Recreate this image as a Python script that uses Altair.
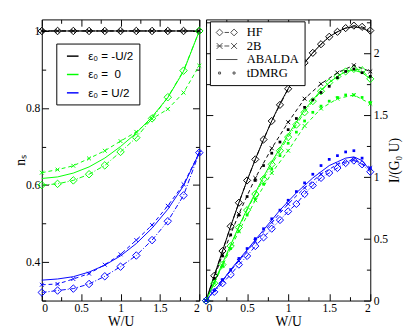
import altair as alt
import pandas as pd

EPS = ["ε₀ = -U/2", "ε₀ =\u00a0 0", "ε₀ = U/2"]
COLORS = ["#000000", "#00ff00", "#0000ff"]

# ---------------- left panel: n_s vs W/U ----------------
W_L = [0.0, 0.2, 0.4, 0.6, 0.8, 1.0, 1.2, 1.4, 1.6, 1.8, 2.0]
ns_hf_black = [1.0, 1.0, 1.0, 1.0, 1.0, 1.0, 1.0, 1.0, 1.0, 1.0, 1.0]
ns_2b_black = [1.0, 1.0, 1.0, 1.0, 1.0, 1.0, 1.0, 1.0, 1.0, 1.0, 1.0]
ns_ab_black = [1.0, 1.0, 1.0, 1.0, 1.0, 1.0, 1.0, 1.0, 1.0, 1.0, 1.0]
ns_hf_green = [0.600, 0.603, 0.612, 0.628, 0.651, 0.686, 0.723, 0.773, 0.828, 0.897, 1.0]
ns_2b_green = [0.632, 0.640, 0.650, 0.669, 0.689, 0.714, 0.738, 0.772, 0.797, 0.840, 0.910]
ns_ab_green = [0.617, 0.621, 0.631, 0.647, 0.670, 0.700, 0.735, 0.777, 0.827, 0.895, 1.0]
ns_hf_blue = [0.321, 0.326, 0.331, 0.343, 0.363, 0.388, 0.417, 0.457, 0.506, 0.573, 0.684]
ns_2b_blue = [0.341, 0.343, 0.356, 0.370, 0.393, 0.420, 0.457, 0.496, 0.546, 0.602, 0.684]
ns_ab_blue = [0.353, 0.356, 0.362, 0.374, 0.392, 0.416, 0.448, 0.488, 0.537, 0.598, 0.684]

# ---------------- right panel: I/(G0 U) vs W/U ----------------
W_R = [0.0, 0.1, 0.2, 0.3, 0.4, 0.5, 0.6, 0.7, 0.8, 0.9, 1.0,
       1.1, 1.2, 1.3, 1.4, 1.5, 1.6, 1.7, 1.8, 1.9, 2.0]
W_R2 = [0.0, 0.2, 0.4, 0.6, 0.8, 1.0, 1.2, 1.4, 1.6, 1.8, 2.0]

I_hf_black = [0, 0.20, 0.40, 0.60, 0.79, 0.97, 1.14, 1.30, 1.45, 1.58, 1.71,
              1.82, 1.92, 2.00, 2.07, 2.13, 2.17, 2.20, 2.22, 2.21, 2.18]
I_ab_black = [0, 0.20, 0.40, 0.60, 0.79, 0.97, 1.14, 1.30, 1.45, 1.59, 1.71,
              1.82, 1.92, 2.00, 2.07, 2.13, 2.17, 2.20, 2.21, 2.20, 2.17]
I_dm_black = [0, 0.18, 0.36, 0.53, 0.69, 0.84, 0.97, 1.09, 1.19, 1.28, 1.38,
              1.47, 1.56, 1.62, 1.68, 1.73, 1.80, 1.85, 1.87, 1.84, 1.81]
I_2b_black = [0, 0.37, 0.70, 0.99, 1.23, 1.44, 1.63, 1.75, 1.84, 1.90, 1.85]

I_hf_green = [0, 0.14, 0.29, 0.44, 0.59, 0.73, 0.86, 0.98, 1.10, 1.21, 1.32,
              1.42, 1.52, 1.61, 1.69, 1.76, 1.81, 1.85, 1.87, 1.86, 1.79]
I_ab_green = [0, 0.15, 0.30, 0.45, 0.60, 0.74, 0.87, 1.00, 1.12, 1.23, 1.34,
              1.44, 1.54, 1.62, 1.70, 1.76, 1.81, 1.85, 1.86, 1.84, 1.79]
I_dm_green = [0, 0.14, 0.28, 0.42, 0.56, 0.69, 0.82, 0.94, 1.06, 1.17, 1.27,
              1.36, 1.45, 1.52, 1.57, 1.61, 1.64, 1.66, 1.66, 1.64, 1.60]
I_2b_green = [0, 0.28, 0.56, 0.81, 1.03, 1.21, 1.41, 1.55, 1.63, 1.66, 1.59]

I_hf_blue = [0, 0.07, 0.14, 0.21, 0.29, 0.36, 0.44, 0.51, 0.58, 0.65, 0.72,
             0.78, 0.86, 0.93, 0.99, 1.03, 1.07, 1.11, 1.13, 1.10, 1.04]
I_ab_blue = [0, 0.08, 0.16, 0.25, 0.33, 0.41, 0.49, 0.57, 0.65, 0.73, 0.80,
             0.87, 0.93, 0.99, 1.04, 1.09, 1.12, 1.15, 1.16, 1.13, 1.05]
I_dm_blue = [0, 0.08, 0.17, 0.25, 0.34, 0.42, 0.50, 0.58, 0.66, 0.73, 0.81,
             0.88, 0.95, 1.02, 1.09, 1.14, 1.17, 1.20, 1.21, 1.15, 1.07]
I_2b_blue = [0, 0.16, 0.32, 0.48, 0.63, 0.78, 0.91, 1.02, 1.10, 1.14, 1.07]

METHODS = ["HF", "2B", "ABALDA", "tDMRG"]
# legend glyphs (symbol paths) for the method legend
LEG_PATHS = [
    "M-2.2,0L-1.5,-0.7L-0.8,0L-1.5,0.7Z M0.8,0L1.5,-0.7L2.2,0L1.5,0.7Z M-0.45,0L0.45,0",
    "M-2.1,-0.6L-0.9,0.6M-2.1,0.6L-0.9,-0.6M-2.1,0L-0.9,0 M0.9,-0.6L2.1,0.6M0.9,0.6L2.1,-0.6 M-0.5,0L0.5,0",
    "M-2.2,0L2.2,0",
    "M-1.7,-0.2L-1.3,-0.2L-1.3,0.2L-1.7,0.2Z M1.3,-0.2L1.7,-0.2L1.7,0.2L1.3,0.2Z",
]
CROSS = "M-1,-1L1,1M-1,1L1,-1"


def frame(xs, series):
    rows = []
    for eps, vals in zip(EPS, series):
        for x, v in zip(xs, vals):
            rows.append({"W": x, "v": v, "eps": eps})
    return pd.DataFrame(rows)


L_hf = frame(W_L, [ns_hf_black, ns_hf_green, ns_hf_blue])
L_2b = frame(W_L, [ns_2b_black, ns_2b_green, ns_2b_blue])
L_ab = frame(W_L, [ns_ab_black, ns_ab_green, ns_ab_blue])

R_hf = frame(W_R, [I_hf_black, I_hf_green, I_hf_blue])
R_ab = frame(W_R, [I_ab_black, I_ab_green, I_ab_blue])
R_dm = frame(W_R, [I_dm_black, I_dm_green, I_dm_blue])
R_2b = frame(W_R2, [I_2b_black, I_2b_green, I_2b_blue])

HF_DASH = [5, 2, 1, 2]
B2_DASH = [4, 3]

FONT = "Liberation Serif"


def ax(orient, values, size, labels=False, title=None, fmt="~g", **kw):
    return alt.Axis(orient=orient, values=values, tickSize=size, offset=-size,
                    domain=False, grid=False, labels=labels, title=title,
                    format=fmt, tickColor="black", tickWidth=1, **kw)


XMAJ = [0, 0.5, 1, 1.5, 2]
XMIN = [0.25, 0.75, 1.25, 1.75]


def color_enc(legend=None):
    if legend is None:
        return alt.Color("eps:N", scale=alt.Scale(domain=EPS, range=COLORS), legend=None)
    return alt.Color("eps:N", scale=alt.Scale(domain=EPS, range=COLORS), legend=legend)


H = 291

# ---------- left panel ----------
ysc_L = alt.Scale(domain=[0.3, 1.03], nice=False, zero=False)
xsc = alt.Scale(domain=[0, 2], nice=False)
YMAJ_L = [0.4, 0.6, 0.8, 1.0]
YMIN_L = [0.3, 0.5, 0.7, 0.9]

left_leg = alt.Legend(orient="none", legendX=15, legendY=25, title=None,
                      strokeColor="black", fillColor="white", padding=6,
                      symbolType="stroke", symbolSize=144, symbolStrokeWidth=1.5,
                      symbolOffset=4, labelOffset=9, rowPadding=6,
                      labelFont="Liberation Sans", labelFontSize=12, labelColor="black")

l1 = alt.Chart(L_ab).mark_line(strokeWidth=1).encode(
    x=alt.X("W:Q", scale=xsc, axis=ax("bottom", XMAJ, 7, labels=True, title="W/U",
                                      labelPadding=2, titlePadding=2)),
    y=alt.Y("v:Q", scale=ysc_L, axis=ax("left", YMAJ_L, 7, labels=True, title="nₛ",
                                        labelPadding=2, titlePadding=-2)),
    color=color_enc(left_leg),
)
l2 = alt.Chart(L_hf).mark_line(strokeWidth=1, strokeDash=HF_DASH).encode(
    x=alt.X("W:Q", scale=xsc, axis=ax("bottom", XMIN, 4)),
    y=alt.Y("v:Q", scale=ysc_L, axis=ax("left", YMIN_L, 4)),
    color=color_enc(),
)
l3 = alt.Chart(L_2b).mark_line(strokeWidth=1, strokeDash=B2_DASH).encode(
    x=alt.X("W:Q", scale=xsc, axis=ax("top", XMAJ, 7)),
    y=alt.Y("v:Q", scale=ysc_L, axis=ax("right", YMAJ_L, 7)),
    color=color_enc(),
)
l4 = alt.Chart(L_hf).mark_point(shape="diamond", size=60, filled=False, strokeWidth=1, opacity=1).encode(
    x=alt.X("W:Q", scale=xsc, axis=ax("top", XMIN, 4)),
    y=alt.Y("v:Q", scale=ysc_L, axis=ax("right", YMIN_L, 4)),
    color=color_enc(),
)
l5 = alt.Chart(L_2b).mark_point(shape=CROSS, size=16, filled=False, strokeWidth=1, opacity=1).encode(
    x=alt.X("W:Q", scale=xsc, axis=None),
    y=alt.Y("v:Q", scale=ysc_L, axis=None),
    color=color_enc(),
)
left = alt.layer(l1, l2, l3, l4, l5).resolve_axis(x="independent", y="independent").properties(
    width=163, height=H)

# ---------- right panel ----------
ysc_R = alt.Scale(domain=[0, 2.27], nice=False, zero=False)
YMAJ_R = [0, 0.5, 1, 1.5, 2]
YMIN_R = [0.25, 0.75, 1.25, 1.75, 2.25]

r1 = alt.Chart(R_ab).mark_line(strokeWidth=1).encode(
    x=alt.X("W:Q", scale=xsc, axis=ax("bottom", XMAJ, 7, labels=True, title="W/U",
                                      labelPadding=2, titlePadding=2)),
    y=alt.Y("v:Q", scale=ysc_R, axis=ax("right", YMAJ_R, 7, labels=True, title="I/(G₀ U)",
                                        labelPadding=3, titleAngle=270, titleBaseline="top",
                                        titlePadding=0)),
    color=color_enc(),
)
r2 = alt.Chart(R_hf).mark_line(strokeWidth=1, strokeDash=HF_DASH).encode(
    x=alt.X("W:Q", scale=xsc, axis=ax("bottom", XMIN, 4)),
    y=alt.Y("v:Q", scale=ysc_R, axis=ax("right", YMIN_R, 4)),
    color=color_enc(),
)
r3 = alt.Chart(R_2b).mark_line(strokeWidth=1, strokeDash=B2_DASH).encode(
    x=alt.X("W:Q", scale=xsc, axis=ax("top", XMAJ, 7)),
    y=alt.Y("v:Q", scale=ysc_R, axis=ax("left", YMAJ_R, 7)),
    color=color_enc(),
)
r4 = alt.Chart(R_hf).mark_point(shape="diamond", size=55, filled=False, strokeWidth=1, opacity=1).encode(
    x=alt.X("W:Q", scale=xsc, axis=ax("top", XMIN, 4)),
    y=alt.Y("v:Q", scale=ysc_R, axis=ax("left", YMIN_R, 4)),
    color=color_enc(),
)
r5 = alt.Chart(R_2b).mark_point(shape=CROSS, size=16, filled=False, strokeWidth=1, opacity=1).encode(
    x=alt.X("W:Q", scale=xsc, axis=None),
    y=alt.Y("v:Q", scale=ysc_R, axis=None),
    color=color_enc(),
)
r6 = alt.Chart(R_dm).mark_point(shape="square", size=8, filled=True, opacity=1).encode(
    x=alt.X("W:Q", scale=xsc, axis=None),
    y=alt.Y("v:Q", scale=ysc_R, axis=None),
    color=color_enc(),
)
right_leg = alt.Legend(orient="none", legendX=4, legendY=2, title=None,
                       strokeColor="black", fillColor="white", padding=5,
                       symbolSize=100, symbolStrokeColor="black", symbolStrokeWidth=1,
                       symbolFillColor="transparent", symbolOffset=6, labelOffset=14,
                       rowPadding=0, labelFont=FONT, labelFontSize=13, labelColor="black")
r7 = alt.Chart(R_ab).transform_filter("false").mark_point(filled=False, color="black").encode(
    x=alt.X("W:Q", scale=xsc, axis=None),
    y=alt.Y("v:Q", scale=ysc_R, axis=None),
    shape=alt.Shape("m:N", scale=alt.Scale(domain=METHODS, range=LEG_PATHS), legend=right_leg),
)
right = alt.layer(r1, r2, r3, r4, r5, r6, r7).resolve_axis(x="independent", y="independent").properties(
    width=170, height=H)

chart = alt.hconcat(left, right, spacing=7, bounds="flush").resolve_scale(
    color="independent", shape="independent"
).resolve_legend(color="independent", shape="independent").configure_view(
    stroke="black", strokeWidth=1
).configure_axis(
    labelFont=FONT, labelFontSize=12, labelColor="black",
    titleFont=FONT, titleFontSize=14, titleColor="black", titleFontWeight="normal",
    titlePadding=2
)

chart.save("out.html", embed_options={"renderer": "svg", "actions": False})
